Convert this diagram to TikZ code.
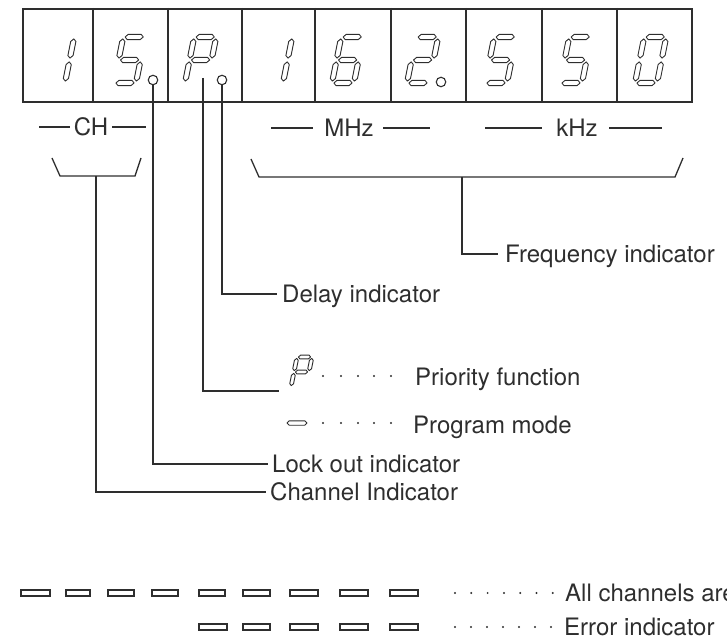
\documentclass[tikz,border=0pt]{standalone}
\usepackage{fontspec}
\setmainfont{TeX Gyre Heros}
\definecolor{ink}{gray}{0.18}
\def\W{22}\def\H{46}\def\gp{1.9}\def\st{2.6}
\newcommand\hseg[3]{\draw[seg] ({#1},{#3}) -- ({#1+\st},{#3+\st}) -- ({#2-\st},{#3+\st}) -- ({#2},{#3}) -- ({#2-\st},{#3-\st}) -- ({#1+\st},{#3-\st}) -- cycle;}
\newcommand\vseg[3]{\draw[seg] ({#1},{#2}) -- ({#1+\st},{#2+\st}) -- ({#1+\st},{#3-\st}) -- ({#1},{#3}) -- ({#1-\st},{#3-\st}) -- ({#1-\st},{#2+\st}) -- cycle;}
\newcommand\segA{\hseg{\gp}{\W-\gp}{\H}}
\newcommand\segB{\vseg{\W}{\H/2+\gp}{\H-\gp}}
\newcommand\segC{\vseg{\W}{\gp}{\H/2-\gp}}
\newcommand\segD{\hseg{\gp}{\W-\gp}{0}}
\newcommand\segE{\vseg{0}{\gp}{\H/2-\gp}}
\newcommand\segF{\vseg{0}{\H/2+\gp}{\H-\gp}}
\newcommand\segG{\hseg{\gp}{\W-\gp}{\H/2}}
\newcommand\sevenseg[3]{\begin{scope}[shift={(#1,#2)},xslant=0.2]#3\end{scope}}
\begin{document}
\begin{tikzpicture}[x=1pt,y=1pt,
  frame/.style={draw=ink,line width=1.8pt},
  conn/.style={draw=ink,line width=1.3pt},
  seg/.style={draw=ink,line width=0.9pt,fill=white,line join=round},
  lbl/.style={font=\fontsize{24}{26}\selectfont,text=ink,inner sep=0pt,text height=17pt,text depth=0pt},
  dotmark/.style={circle,fill=ink,inner sep=0pt,minimum size=2.2pt},
  dpoint/.style={circle,draw=ink,line width=1.1pt,fill=white,inner sep=0pt,minimum size=9.5pt},
  bar/.style={draw=ink,line width=1.4pt}]
\useasboundingbox (0,0) rectangle (727,640);
% display frame
\node[frame,minimum width=669pt,minimum height=93pt,inner sep=0pt,anchor=north west] (disp) at (22,632) {};
\foreach \x in {93,168,242,315,391,466,542,617} \draw[frame] (\x,632) -- (\x,539);
% digits
\sevenseg{43}{557}{\segB\segC}
\sevenseg{114}{557}{\segA\segF\segG\segC\segD}
\sevenseg{185}{557}{\segA\segB\segF\segG\segE}
\sevenseg{261}{557}{\segB\segC}
\sevenseg{332}{557}{\segA\segF\segG\segE\segD\segC}
\sevenseg{407}{557}{\segA\segB\segG\segE\segD}
\sevenseg{485}{557}{\segA\segF\segG\segC\segD}
\sevenseg{560}{557}{\segA\segF\segG\segC\segD}
\sevenseg{635}{557}{\segA\segB\segC\segD\segE\segF}
\node[dpoint] (lockdot) at (153,560) {};
\node[dpoint] (delaydot) at (222,560) {};
\node[dpoint] (dp) at (441,558) {};
\coordinate (ptop) at (203,562);
% group labels
\node[lbl] (ch) at (91,513) {CH};
\draw[conn] (39,513) -- (70,513) (112,513) -- (146,513);
\node[lbl] (mhz) at (349,512) {MHz};
\draw[conn] (271,512) -- (313,512) (383,512) -- (430,512);
\node[lbl] (khz) at (577,512) {kHz};
\draw[conn] (485,512) -- (542,512) (609,512) -- (662,512);
% brackets
\draw[conn] (52,482) -- (60,464) -- (135,464) -- (141,482);
\coordinate (chstem) at (96,464);
\draw[conn] (251,481) -- (259,463) -- (675,463) -- (683,482);
\coordinate (fstem) at (462,463);
% labels
\node[lbl,anchor=west] (freq) at (505,386) {Frequency indicator};
\node[lbl,anchor=west] (delay) at (282,346) {Delay indicator};
\node[lbl,anchor=west] (prio) at (415,263) {Priority function};
\node[lbl,anchor=west] (prog) at (413,215) {Program mode};
\node[lbl,anchor=west] (lock) at (272,176) {Lock out indicator};
\node[lbl,anchor=west] (chan) at (270,148) {Channel Indicator};
\node[lbl,anchor=west] (allch) at (565,47) {All channels are};
\node[lbl,anchor=west] (err) at (564,13) {Error indicator};
% connectors
\draw[conn] (fstem) |- ([xshift=-7pt]freq.west);
\draw[conn] (delaydot.south) |- ([xshift=-5pt]delay.west);
\coordinate (pend) at (279,249);
\draw[conn] (ptop) |- (pend);
\draw[conn] (lockdot.south) |- ([xshift=-4pt]lock.west);
\draw[conn] (chstem) |- ([xshift=-4pt]chan.west);
% small P glyph and program-mode bar
\begingroup
\def\W{15}\def\H{30}\def\gp{1.4}\def\st{1.9}
\sevenseg{291}{253}{\segA\segB\segF\segG\segE}
\endgroup
\begingroup
\def\st{2.2}
\hseg{287}{307}{217}
\endgroup
% leader dots
\foreach \x in {323,341,358,374,391} {\node[dotmark] at (\x,264) {}; \node[dotmark] at (\x,217) {};}
\foreach \i in {0,...,6} {\node[dotmark] at (455+16.3*\i,47) {}; \node[dotmark] at (455+16*\i,13) {};}
% bars
\foreach \a/\b in {21/50,66/90,108/134,152/178,199/225,243/270,290/318,340/368,390/418}
  \draw[bar] (\a,44) rectangle (\b,50);
\foreach \a/\b in {199/227,243/270,290/318,340/368,390/418}
  \draw[bar] (\a,10) rectangle (\b,16);
\end{tikzpicture}
\end{document}
